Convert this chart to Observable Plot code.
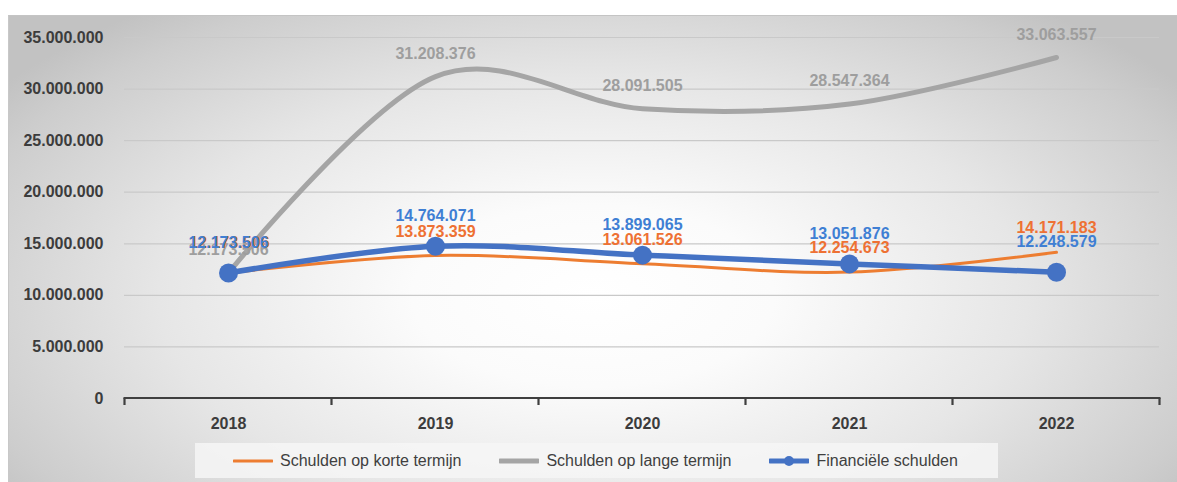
<!DOCTYPE html>
<html>
<head>
<meta charset="utf-8">
<script src="https://cdn.jsdelivr.net/npm/d3@7"></script>
<script src="https://cdn.jsdelivr.net/npm/@observablehq/plot@0.6"></script>
<style>
  html, body { margin: 0; padding: 0; background: #ffffff; }
  body { width: 1177px; height: 482px; position: relative; overflow: hidden; font-family: "Liberation Sans", Arial, sans-serif; }
  #wrap {
    position: absolute; left: 8px; top: 15px; width: 1169px; height: 467px;
    border-top: 1px solid #c4c4c4; border-left: 1px solid #c8c8c8; box-sizing: border-box;
    background: radial-gradient(ellipse 62% 78% at 50% 60%, #ffffff 0%, #fbfbfb 25%, #e6e6e6 60%, #cdcdcd 90%, #c2c2c2 100%);
  }
  #chart { position: absolute; left: -1px; top: -1px; }
  #legend {
    position: absolute; left: 186px; top: 427px; width: 803px; height: 35px;
    background: rgba(246,246,246,0.85);
    display: flex; align-items: center; padding-left: 38px; box-sizing: border-box;
    font-size: 16px; color: #404040;
  }
  .item { display: flex; align-items: center; margin-right: 38px; }
  .item svg { margin-right: 7px; }
</style>
</head>
<body>
<div id="wrap">
  <div id="chart"></div>
  <div id="legend"></div>
</div>
<script>
// ---- data ----
const years = ["2018", "2019", "2020", "2021", "2022"];
const korte = [12173506, 13873359, 13061526, 12254673, 14171183];
const lange = [12173506, 31208376, 28091505, 28547364, 33063557];
const financ = [12173506, 14764071, 13899065, 13051876, 12248579];
const seriesNames = ["Schulden op korte termijn", "Schulden op lange termijn", "Financiële schulden"];
const seriesColors = ["#ED7D31", "#A5A5A5", "#4472C4"];
const labelColors = ["#EE7133", "#9E9E9E", "#3F7FD4"];
const yTicks = [0, 5000000, 10000000, 15000000, 20000000, 25000000, 30000000, 35000000];

const fmt = d3.formatLocale({decimal: ",", thousands: ".", grouping: [3], currency: ["", ""]}).format(",d");

const toRows = (vals, s) => years.map((y, i) => ({year: y, value: vals[i], series: s}));
const rowsK = toRows(korte, seriesNames[0]);
const rowsL = toRows(lange, seriesNames[1]);
const rowsF = toRows(financ, seriesNames[2]);

// band boundary ticks + axis baseline, derived from the scales
const axisBase = (index, scales) => {
  const xs = years.map(v => scales.x(v));
  const step = xs[1] - xs[0];
  const edges = [xs[0] - step / 2, ...xs.map(x => x + step / 2)];
  const y0 = scales.y(0);
  const g = d3.create("svg:g").attr("stroke", "#3f3f3f").attr("stroke-width", 2.2);
  g.append("line").attr("x1", edges[0] - 1).attr("x2", edges[edges.length - 1] + 1).attr("y1", y0).attr("y2", y0);
  g.selectAll("line.t").data(edges).join("line").attr("class", "t")
    .attr("x1", d => d).attr("x2", d => d).attr("y1", y0).attr("y2", y0 + 7);
  return g.node();
};

const labelStyle = {x: "year", y: "value", text: d => fmt(d.value), fontSize: 16, fontWeight: "bold"};

const chart = Plot.plot({
  width: 1169,
  height: 425,
  marginLeft: 116,
  marginRight: 18,
  marginTop: 22,
  marginBottom: 42,
  style: {background: "transparent", fontFamily: "'Liberation Sans', Arial, sans-serif", overflow: "visible"},
  x: {type: "point", domain: years, padding: 0.5},
  y: {domain: [0, 35000000]},
  marks: [
    Plot.gridY(yTicks.filter(d => d > 0), {stroke: "#c9c9c9", strokeOpacity: 1, strokeWidth: 1.2}),
    Plot.axisY(yTicks, {tickSize: 0, tickPadding: 21, tickFormat: d => fmt(d), fontSize: 16, fontWeight: "bold", fill: "#3c3c3c", label: null}),
    Plot.axisX({tickSize: 0, tickPadding: 19, fontSize: 16, fontWeight: "bold", fill: "#3c3c3c", label: null}),
    axisBase,
    Plot.line(rowsL, {x: "year", y: "value", stroke: seriesColors[1], strokeWidth: 5, curve: "cardinal"}),
    Plot.line(rowsK, {x: "year", y: "value", stroke: seriesColors[0], strokeWidth: 3, curve: "cardinal"}),
    Plot.line(rowsF, {x: "year", y: "value", stroke: seriesColors[2], strokeWidth: 5.5, curve: "cardinal"}),
    Plot.dot(rowsF, {x: "year", y: "value", fill: seriesColors[2], r: 9.5}),
    Plot.text(rowsL, {...labelStyle, fill: labelColors[1], dy: -23}),
    Plot.text(rowsK.slice(1), {...labelStyle, fill: labelColors[0], dy: -24}),
    Plot.text(rowsK.slice(0, 1), {...labelStyle, fill: labelColors[0], dy: -30, dx: 1}),
    Plot.text(rowsF, {...labelStyle, fill: labelColors[2], dy: -30})
  ]
});
document.getElementById("chart").appendChild(chart);

// legend
const legend = d3.select("#legend");
seriesNames.forEach((name, i) => {
  const item = legend.append("div").attr("class", "item");
  const sw = item.append("svg").attr("width", 40).attr("height", 14);
  sw.append("line").attr("x1", 1).attr("x2", 39).attr("y1", 7).attr("y2", 7)
    .attr("stroke", seriesColors[i]).attr("stroke-width", i === 0 ? 3 : 5).attr("stroke-linecap", "round");
  if (i === 2) sw.append("circle").attr("cx", 20).attr("cy", 7).attr("r", 5).attr("fill", seriesColors[i]);
  item.append("span").text(name);
});
</script>
</body>
</html>
